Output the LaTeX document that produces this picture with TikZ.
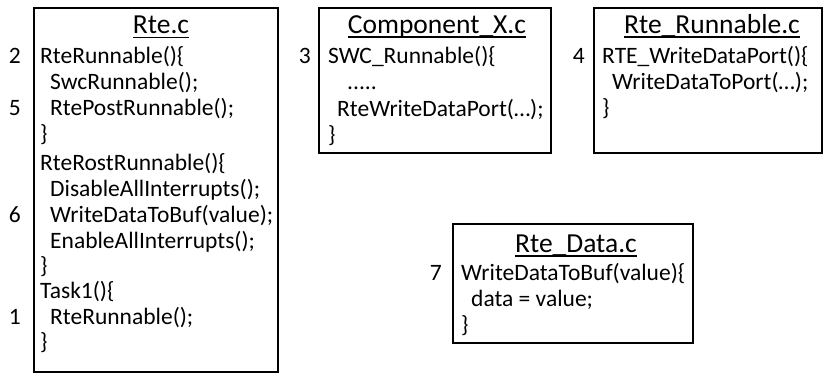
\documentclass[tikz,border=0pt]{standalone}
\usepackage{fontspec}
\setmainfont{Carlito}
\newcommand\codefont{\fontsize{23.5}{26}\selectfont}
\newcommand\ttlfont{\fontsize{27.5}{30}\selectfont}
\begin{document}
\begin{tikzpicture}[x=1pt,y=-1pt,
  frame/.style={draw, line width=2.2pt, inner sep=0pt, outer sep=0pt, anchor=north west},
  title/.style={font=\ttlfont, inner sep=0pt, anchor=base},
  code/.style={font=\codefont, inner sep=0pt, anchor=base west},
  stepno/.style={font=\codefont, inner sep=0pt, anchor=base east},
  uline/.style={line width=1.4pt}]
\useasboundingbox[fill=white] (0,0) rectangle (826,376);

% --- Rte.c ---
\node[frame, minimum width=244pt, minimum height=364pt] (rte) at (34,8) {};
\node[title] (rteT) at (161,33.5) {Rte.c};
\draw[uline] ([yshift=-4pt]rteT.base west) -- ([yshift=-4pt]rteT.base east);
\node[code] (rte1)  at (40,63)  {RteRunnable()\{};
\node[code] (rte2)  at (50,89)  {SwcRunnable();};
\node[code] (rte3)  at (50,115) {RtePostRunnable();};
\node[code] (rte4)  at (40,141) {\}};
\node[code] (rte5)  at (40,170) {RteRostRunnable()\{};
\node[code] (rte6)  at (50,196) {DisableAllInterrupts();};
\node[code] (rte7)  at (50,222) {WriteDataToBuf(value);};
\node[code] (rte8)  at (50,248) {EnableAllInterrupts();};
\node[code] (rte9)  at (40,273) {\}};
\node[code] (rte10) at (40,298) {Task1()\{};
\node[code] (rte11) at (50,324) {RteRunnable();};
\node[code] (rte12) at (40,349) {\}};
\node[stepno] (n2) at (21,63)  {2};
\node[stepno] (n5) at (21,115) {5};
\node[stepno] (n6) at (21,222) {6};
\node[stepno] (n1) at (21,324) {1};

% --- Component_X.c ---
\node[frame, minimum width=232pt, minimum height=145pt] (comp) at (319,8) {};
\node[title] (compT) at (437,33) {Component\_X.c};
\draw[uline] ([yshift=-4pt]compT.base west) -- ([yshift=-4pt]compT.base east);
\node[code] (comp1) at (328,63)  {SWC\_Runnable()\{};
\node[code] (comp2) at (347,89)  {.....};
\node[code] (comp3) at (337,116) {RteWriteDataPort(…);};
\node[code] (comp4) at (328,142) {\}};
\node[stepno] (n3) at (311,63) {3};

% --- Rte_Runnable.c ---
\node[frame, minimum width=228pt, minimum height=145pt] (rrun) at (594,8) {};
\node[title] (rrunT) at (712,33) {Rte\_Runnable.c};
\draw[uline] ([yshift=-4pt]rrunT.base west) -- ([yshift=-4pt]rrunT.base east);
\node[code] (rrun1) at (602,63)  {RTE\_WriteDataPort()\{};
\node[code] (rrun2) at (612,89)  {WriteDataToPort(…);};
\node[code] (rrun3) at (602,115) {\}};
\node[stepno] (n4) at (585,63) {4};

% --- Rte_Data.c ---
\node[frame, minimum width=240pt, minimum height=119pt] (data) at (453,224) {};
\node[title] (dataT) at (576,252) {Rte\_Data.c};
\draw[uline] ([yshift=-4pt]dataT.base west) -- ([yshift=-4pt]dataT.base east);
\node[code] (data1) at (461,280) {WriteDataToBuf(value)\{};
\node[code] (data2) at (471,306) {data = value;};
\node[code] (data3) at (461,332) {\}};
\node[stepno] (n7) at (442,280) {7};
\end{tikzpicture}
\end{document}
